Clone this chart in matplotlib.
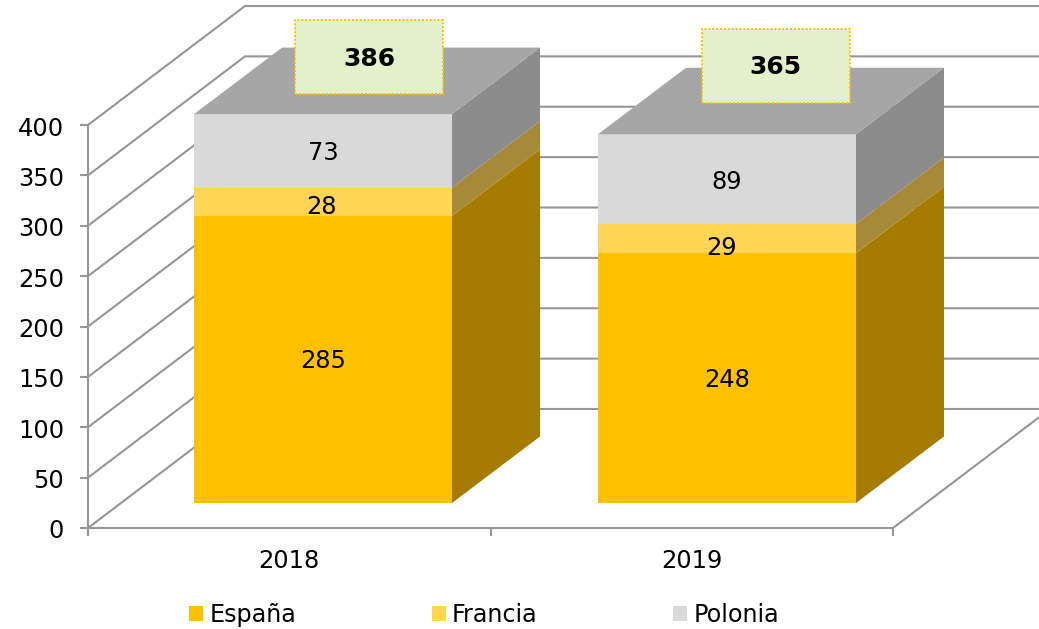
import matplotlib
matplotlib.use("Agg")
import matplotlib.pyplot as plt
from matplotlib.patches import Polygon, Rectangle, Patch
from matplotlib.transforms import ScaledTranslation

years = ["2018", "2019"]
series_names = ["España", "Francia", "Polonia"]
espana = [285, 248]
francia = [28, 29]
polonia = [73, 89]
totals = [386, 365]
y_ticks = [0, 50, 100, 150, 200, 250, 300, 350, 400]

front_colors = ["#FFC000", "#FFD555", "#D9D9D9"]
side_colors = ["#A67C00", "#A68A38", "#8C8C8C"]
top_color = "#A6A6A6"
grid_color = "#969696"

W, H = 1039, 629
fig = plt.figure(figsize=(W / 100, H / 100), dpi=100, facecolor="white")
L, R, T, B = 88, 893, 125, 528
ax = fig.add_axes([L / W, 1 - B / H, (R - L) / W, (B - T) / H])
ax.set_xlim(0, 2)
ax.set_ylim(0, 400)
ax.patch.set_visible(False)
PX = (R - L) / 2
PY = (B - T) / 400

for s in ("top", "right"):
    ax.spines[s].set_visible(False)
for s in ("left", "bottom"):
    ax.spines[s].set_color(grid_color)
    ax.spines[s].set_linewidth(1.5)
    ax.spines[s].set_zorder(1)

FS = 17.4
ax.set_yticks(y_ticks)
ax.set_yticklabels([str(v) for v in y_ticks], fontsize=FS)
ax.tick_params(axis="y", length=5.8, width=1.5, color=grid_color, pad=11.5)
shift = ScaledTranslation(0, -1 / 100, fig.dpi_scale_trans)
for lab in ax.get_yticklabels():
    lab.set_transform(lab.get_transform() + shift)
ax.set_xticks([0, 1, 2])
ax.set_xticklabels([])
ax.set_xticks([0.5, 1.5], minor=True)
ax.set_xticklabels(years, minor=True, fontsize=FS)
ax.tick_params(axis="x", which="major", length=5.8, width=1.5, color=grid_color)
ax.tick_params(axis="x", which="minor", length=0, pad=15)

# back wall and floor
gdx, gdy = 157 / PX, 119 / PY
for v in y_ticks:
    ax.plot([0, gdx, 2 + gdx], [v, v + gdy, v + gdy], color=grid_color, lw=1.5,
            clip_on=False, zorder=1, solid_joinstyle="miter")
ax.plot([2, 2 + gdx], [0, gdy], color=grid_color, lw=1.5, clip_on=False, zorder=1)

# 3-D bars
bar_w = 258 / PX
bdx, bdy = 88 / PX, 66.5 / PY
base = 25 / PY
centers = [(323 - L) / PX, (727 - L) / PX]
label_nudge = [(0, -2 / PY), (-2 / PX, -5 / PY), (0, -2.5 / PY)]
for i, c in enumerate(centers):
    x0, x1 = c - bar_w / 2, c + bar_w / 2
    bottom = base
    for j, vals in enumerate((espana, francia, polonia)):
        top = bottom + vals[i]
        ax.add_patch(Rectangle((x0, bottom), bar_w, vals[i], fc=front_colors[j], ec="none",
                               clip_on=False, zorder=3))
        ax.add_patch(Polygon([(x1, bottom), (x1 + bdx, bottom + bdy), (x1 + bdx, top + bdy), (x1, top)],
                             closed=True, fc=side_colors[j], ec="none", clip_on=False, zorder=3))
        nx, ny = label_nudge[j]
        if i == 1 and j == 1:
            nx, ny = -5 / PX, -9 / PY
        ax.text(c + nx, bottom + vals[i] / 2 + ny, str(vals[i]), ha="center", va="center",
                fontsize=FS, color="black", zorder=6)
        bottom = top
    ax.add_patch(Polygon([(x0, bottom), (x1, bottom), (x1 + bdx, bottom + bdy), (x0 + bdx, bottom + bdy)],
                         closed=True, fc=top_color, ec="none", clip_on=False, zorder=3))

# total boxes
box_w, box_h = 148 / PX, 74 / PY
box_cx = [(369 - L) / PX, (775.5 - L) / PX]
box_cy = [(B - 57) / PY, (B - 65.5) / PY]
for cx, cy, t, dy in zip(box_cx, box_cy, totals, (-1.5 / PY, -2 / PY)):
    ax.add_patch(Rectangle((cx - box_w / 2, cy - box_h / 2), box_w, box_h, fc="#E3F1CB", ec="#FFC000",
                           lw=1.4, ls=(0, (1, 1)), clip_on=False, zorder=5))
    ax.text(cx, cy + dy, str(t), ha="center", va="center", fontsize=18, fontweight="bold",
            color="black", zorder=6)

handles = [Patch(fc=c, ec="none", label=n) for c, n in zip(front_colors, series_names)]
fig.legend(handles=handles, loc="lower left", bbox_to_anchor=(189 / W, 1 - 627 / H), ncol=3, frameon=False,
           fontsize=17.2, handlelength=0.59, handleheight=0.59, handletextpad=0.26,
           columnspacing=5.67, borderpad=0, borderaxespad=0)

fig.savefig("out.png", dpi=100, facecolor="white")
